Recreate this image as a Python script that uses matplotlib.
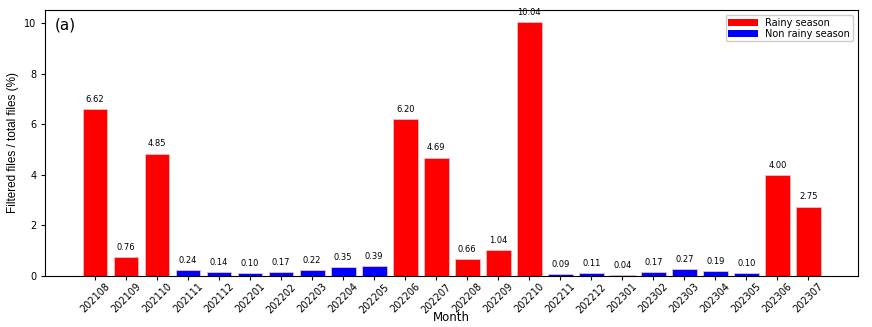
import matplotlib.pyplot as plt
import numpy as np

months = ["202108", "202109", "202110", "202111", "202112", "202201", "202202", "202203",
          "202204", "202205", "202206", "202207", "202208", "202209", "202210", "202211",
          "202212", "202301", "202302", "202303", "202304", "202305", "202306", "202307"]
ratio = [6.62, 0.76, 4.85, 0.24, 0.14, 0.10, 0.17, 0.22, 0.35, 0.39, 6.20, 4.69,
         0.66, 1.04, 10.04, 0.09, 0.11, 0.04, 0.17, 0.27, 0.19, 0.10, 4.00, 2.75]
rainy = [True, True, True, False, False, False, False, False, False, False, True, True,
         True, True, True, False, False, False, False, False, False, False, True, True]

colors = ['red' if r else 'blue' for r in rainy]
x = np.arange(len(months))

fig, ax = plt.subplots(figsize=(8.72, 3.27), dpi=100)
bars = ax.bar(x, ratio, width=0.8, color=colors, edgecolor='#f0c0c0', linewidth=0.6)

# value labels above bars
for xi, v in zip(x, ratio):
    ax.text(xi, v + 0.2, f"{v:.2f}", ha='center', va='bottom', fontsize=6)

ax.bar(0, 0, color='red', label='Rainy season')
ax.bar(0, 0, color='blue', label='Non rainy season')
ax.legend(loc='upper right', fontsize=7, handlelength=3, borderpad=0.3,
          labelspacing=0.1, framealpha=1)

ax.set_xticks(x)
ax.set_xticklabels(months, rotation=45, fontsize=7)
ax.tick_params(axis='x', pad=1, length=3)
ax.tick_params(axis='y', labelsize=7, length=3)
ax.set_xlim(-1.6, len(months) + 0.6)
ax.set_ylim(0, 10.54)
ax.set_xlabel("Month", fontsize=8.5, labelpad=-3)
ax.set_ylabel("Filtered files / total files (%)", fontsize=8.5, family='Liberation Sans')
ax.text(0.012, 0.97, "(a)", transform=ax.transAxes, fontsize=11, va='top')

fig.subplots_adjust(left=0.052, right=0.984, top=0.97, bottom=0.156)
fig.savefig("out.png", dpi=100)
